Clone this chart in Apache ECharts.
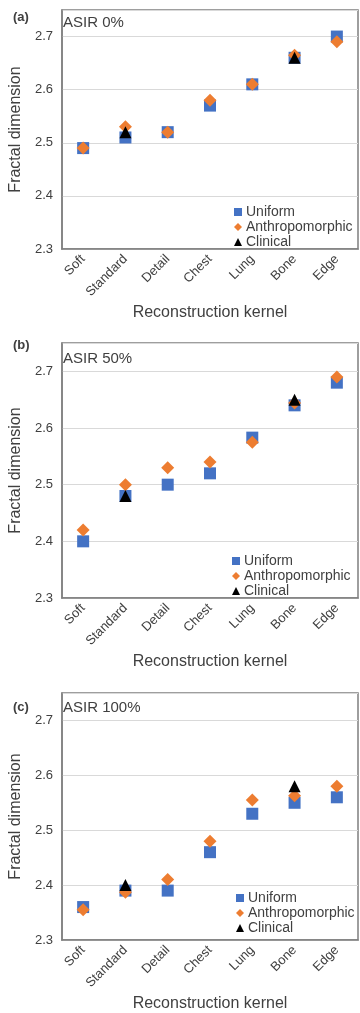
<!DOCTYPE html>
<html>
<head>
<meta charset="utf-8">
<style>
  html, body { margin: 0; padding: 0; background: #ffffff; }
  #chart { width: 360px; height: 1013px; }
</style>
<script src="https://cdn.jsdelivr.net/npm/echarts@6/dist/echarts.min.js"></script>
</head>
<body>
<div id="chart"></div>
<script>
// Reconstruction kernels on the x axis
const kernels = ['Soft', 'Standard', 'Detail', 'Chest', 'Lung', 'Bone', 'Edge'];

// Fractal dimension by phantom type, ASIR 0%
const uniform0 = [2.49, 2.51, 2.52, 2.57, 2.61, 2.66, 2.70];
const anthro0 = [2.49, 2.53, 2.52, 2.58, 2.61, 2.665, 2.69];
const clinical0 = [null, 2.52, null, null, null, 2.66, null];

// ASIR 50%
const uniform50 = [2.40, 2.48, 2.50, 2.52, 2.583, 2.64, 2.68];
const anthro50 = [2.42, 2.50, 2.53, 2.54, 2.575, 2.644, 2.69];
const clinical50 = [null, 2.48, null, null, null, 2.65, null];

// ASIR 100%
const uniform100 = [2.36, 2.39, 2.39, 2.46, 2.53, 2.55, 2.56];
const anthro100 = [2.355, 2.387, 2.41, 2.48, 2.555, 2.563, 2.58];
const clinical100 = [null, 2.40, null, null, null, 2.58, null];

// Panel tags and captions
const panelTags = ['(a)', '(b)', '(c)'];
const panelCaptions = ['ASIR 0%', 'ASIR 50%', 'ASIR 100%'];
const seriesNames = ['Uniform', 'Anthropomorphic', 'Clinical'];

const panelData = [
  [uniform0, anthro0, clinical0],
  [uniform50, anthro50, clinical50],
  [uniform100, anthro100, clinical100]
];

// Layout of the three stacked panels
const layout = [
  { top: 10, height: 239, tagTop: 11, capTop: 15, legendLeft: 234, legendTop: 205 },
  { top: 343, height: 255, tagTop: 339, capTop: 351, legendLeft: 232, legendTop: 554 },
  { top: 693, height: 248, tagTop: 701, capTop: 700, legendLeft: 236, legendTop: 891 }
];

const FONT = 'Liberation Sans, Arial, sans-serif';
const TEXT = '#404040';
const colors = ['#4472C4', '#ED7D31', '#000000'];
const symbols = ['rect', 'diamond', 'triangle'];
const sizes = [12, 13, 12];

const grids = [], xAxes = [], yAxes = [], series = [], titles = [], legends = [];

layout.forEach((p, i) => {
  grids.push({
    left: 60, top: p.top, width: 298, height: p.height,
    show: true, borderColor: '#7f7f7f', borderWidth: 1.5, backgroundColor: 'transparent'
  });
  xAxes.push({
    type: 'category', gridIndex: i, data: kernels,
    axisLine: { lineStyle: { color: '#7f7f7f', width: 1.5 } },
    axisTick: { show: false },
    axisLabel: { rotate: 45, margin: 8, fontSize: 13, color: TEXT, fontFamily: FONT },
    name: 'Reconstruction kernel', nameLocation: 'middle', nameGap: 56,
    nameTextStyle: { fontSize: 16, color: TEXT, fontFamily: FONT }
  });
  yAxes.push({
    type: 'value', gridIndex: i, min: 2.3, max: 2.75, interval: 0.1,
    axisLine: { show: true, lineStyle: { color: '#7f7f7f', width: 1.5 } },
    axisTick: { show: false },
    splitLine: { lineStyle: { color: '#d9d9d9', width: 1 } },
    axisLabel: {
      showMaxLabel: false, fontSize: 13, color: TEXT, fontFamily: FONT, margin: 9,
      formatter: v => v.toFixed(1)
    },
    name: 'Fractal dimension', nameLocation: 'middle', nameGap: 38,
    nameTextStyle: { fontSize: 16, color: TEXT, fontFamily: FONT }
  });
  panelData[i].forEach((vals, k) => {
    series.push({
      name: seriesNames[k], type: 'scatter', xAxisIndex: i, yAxisIndex: i,
      symbol: symbols[k], symbolSize: sizes[k],
      itemStyle: { color: colors[k], opacity: 1 },
      data: vals.map(v => (v === null ? '-' : v)),
      z: 2 + k
    });
  });
  titles.push({
    text: panelTags[i], left: 13, top: p.tagTop, padding: 0,
    textStyle: { fontSize: 13, fontWeight: 'bold', color: TEXT, fontFamily: FONT }
  });
  titles.push({
    text: panelCaptions[i], left: 63, top: p.capTop, padding: 0,
    textStyle: { fontSize: 15, fontWeight: 'normal', color: TEXT, fontFamily: FONT }
  });
  legends.push({
    orient: 'vertical', left: p.legendLeft, top: p.legendTop, padding: 0,
    itemWidth: 8, itemHeight: 8, itemGap: 1,
    textStyle: { fontSize: 14, color: TEXT, fontFamily: FONT, padding: [0, 0, 0, -1] },
    data: seriesNames.map((n, k) => ({ name: n, icon: symbols[k] }))
  });
});

const chart = echarts.init(document.getElementById('chart'), null, { renderer: 'canvas' });
chart.setOption({
  animation: false,
  backgroundColor: '#ffffff',
  title: titles,
  legend: legends,
  grid: grids,
  xAxis: xAxes,
  yAxis: yAxes,
  series: series
});
</script>
</body>
</html>
